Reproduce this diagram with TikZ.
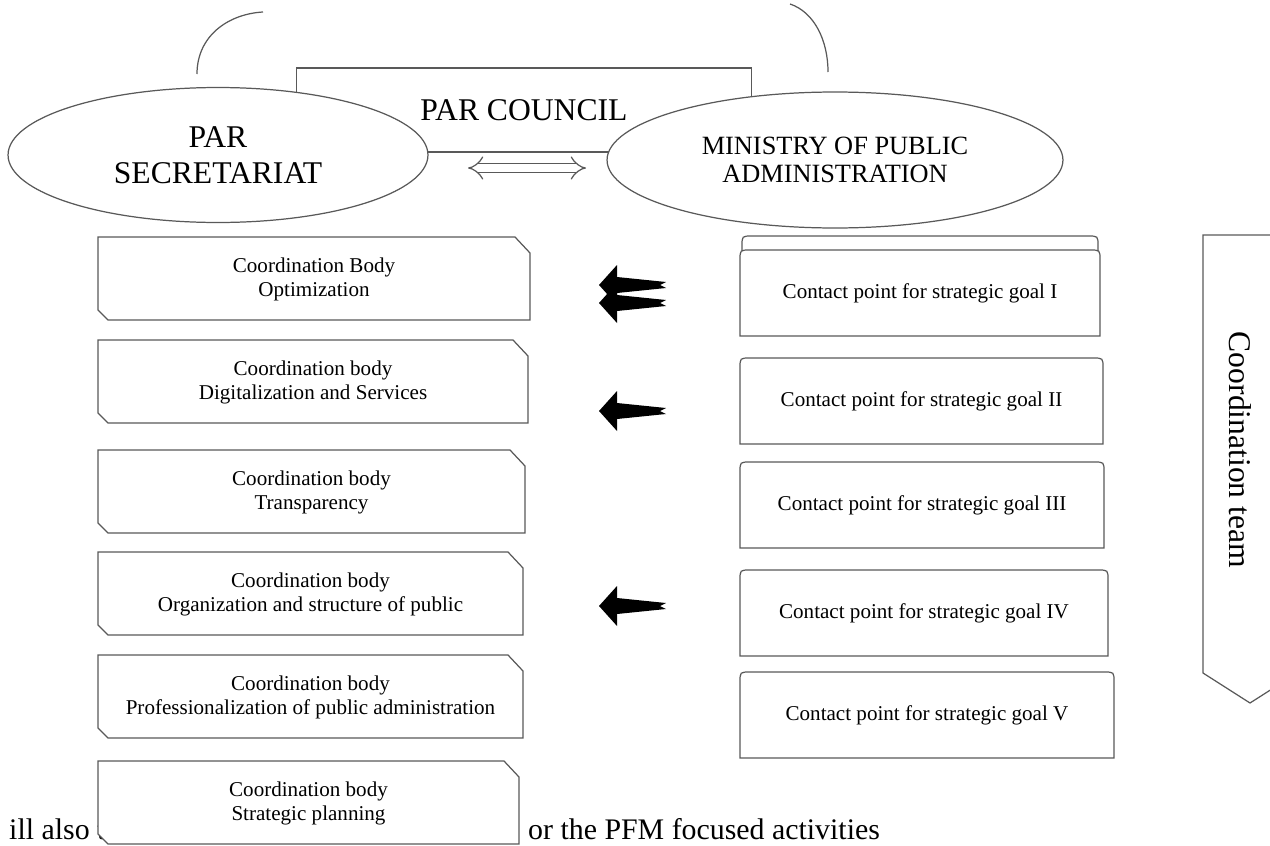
\documentclass[tikz,border=0pt]{standalone}
\usepackage{fontspec}
\setmainfont{Liberation Serif}
\usetikzlibrary{shapes.geometric,arrows.meta}
\begin{document}
\begin{tikzpicture}[x=0.02cm,y=-0.02cm,
        gline/.style={draw=black!65,line width=0.7pt},
        bigtext/.style={font=\fontsize{18}{20.5}\selectfont,align=center},
        midtext/.style={font=\fontsize{15}{16}\selectfont,align=center},
        smalltext/.style={font=\fontsize{12}{13.7}\selectfont,align=center},
        fatarrow/.pic={\fill (0,0) -- (18,-20) -- (18,-8) -- (67,-3) -- (61,0) -- (67,3) -- (18,8) -- (18,20) -- cycle;}]
    \useasboundingbox (0,0) rectangle (1270,845);
    \node[anchor=base west,font=\fontsize{17}{20}\selectfont] (linel) at (3,839) {ill also t};
    \node[anchor=base west,font=\fontsize{17}{20}\selectfont] (liner) at (522,839) {or the PFM focused activities};
    \coordinate (la) at (197,74);
    \coordinate (lb) at (263,12);
    \coordinate (ra) at (790,4);
    \coordinate (rb) at (828,72);
    \draw[gline] (la) .. controls (197,36) and (228,14) .. (lb);
    \draw[gline] (ra) .. controls (814,12) and (828,40) .. (rb);
    \node[gline,minimum width=9.1cm,minimum height=1.68cm,bigtext] (council) at (524,110) {PAR COUNCIL};
    \node[gline,fill=white,ellipse,minimum width=8.4cm,minimum height=2.7cm,bigtext] (secr) at (218,155) {PAR\\SECRETARIAT};
    \node[gline,fill=white,ellipse,minimum width=9.12cm,minimum height=2.72cm,midtext] (mpa) at (835,160) {MINISTRY OF PUBLIC\\ADMINISTRATION};
    \coordinate (dl) at (468,168);
    \coordinate (dr) at (586,168);
    \draw[gline,double,double distance=4pt,{Implies}-{Implies}] (dl) -- (dr);
    % coordination bodies
    \foreach \t/\r/\n/\txt in {237/530/1/{Coordination Body\\Optimization},
            340/528/2/{Coordination body\\Digitalization and Services},
            450/525/3/{Coordination body\\Transparency},
            552/523/4/{Coordination body\\Organization and structure of public},
            655/523/5/{Coordination body\\Professionalization of public administration},
            761/519/6/{Coordination body\\Strategic planning}}
    {
        \filldraw[gline,fill=white] (98,\t) -- (\r-15,\t) -- (\r,\t+16) -- (\r,\t+83) -- (108,\t+83) -- (98,\t+73) -- cycle;
        \node[smalltext] (cb\n) at ({(98+\r)/2},\t+42) {\txt};
    }
    % contact points
    \filldraw[gline,fill=white] (742,322) -- (742,246) .. controls (742,236) .. (752,236) -- (1088,236) .. controls (1098,236) .. (1098,246) -- (1098,322);
    \foreach \t/\r/\n/\g in {250/1100/1/I,358/1103/2/II,462/1104/3/III,570/1108/4/IV,672/1114/5/V}
    {
        \filldraw[gline,fill=white] (740,\t+86) -- (740,\t+10) .. controls (740,\t) .. (750,\t) -- (\r-10,\t) .. controls (\r,\t) .. (\r,\t+10) -- (\r,\t+86) -- cycle;
        \node[smalltext] (cp\n) at ({(740+\r)/2},\t+43) {Contact point for strategic goal \g};
    }
    \pic at (599,285) {fatarrow};
    \pic at (599,303) {fatarrow};
    \pic at (599,411) {fatarrow};
    \pic at (599,606) {fatarrow};
    % coordination team
    \begin{scope}
        \clip (0,0) rectangle (1270,845);
        \draw[gline] (1300,235) -- (1203,235) -- (1203,673) -- (1250,703) -- (1297,673);
    \end{scope}
    \node[bigtext,rotate=-90] (team) at (1240,450) {Coordination team};
\end{tikzpicture}
\end{document}
